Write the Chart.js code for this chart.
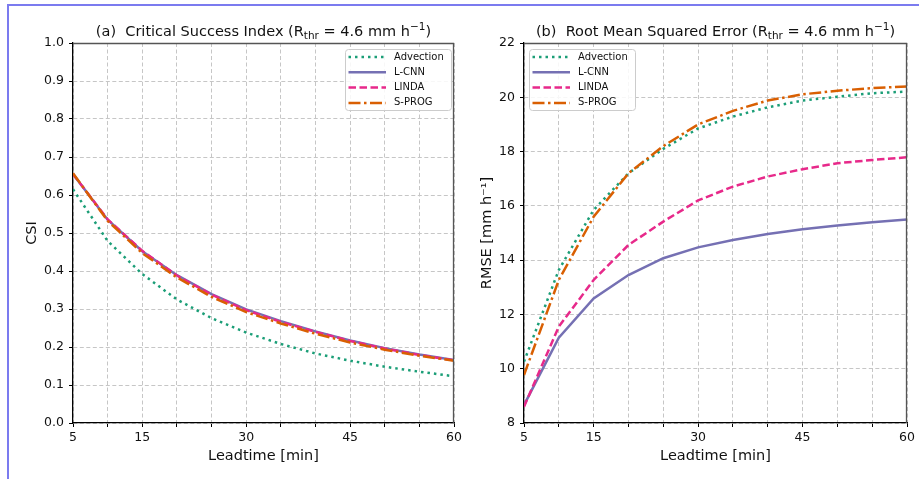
<!DOCTYPE html>
<html>
<head>
<meta charset="utf-8">
<script src="https://cdn.jsdelivr.net/npm/chart.js@4/dist/chart.umd.min.js"></script>
<style>
  html, body { margin: 0; padding: 0; background: #fff; }
  body { width: 919px; height: 479px; position: relative; overflow: hidden; }
  #frame { position: absolute; left: 7px; top: 4px; width: 912px; height: 475px;
           border-top: 2px solid #7b7bef; border-left: 2px solid #7b7bef; box-sizing: border-box; }
  canvas { position: absolute; top: 0; }
  #csi { left: 10px; }
  #rmse { left: 475px; }
</style>
</head>
<body>
<div id="frame"></div>
<canvas id="csi" width="465" height="479"></canvas>
<canvas id="rmse" width="444" height="479"></canvas>
<script>
// leadtime [min]
const leadtimes = [5, 10, 15, 20, 25, 30, 35, 40, 45, 50, 55, 60];
const xTickLabels = [5, 15, 30, 45, 60];

// (a) CSI
const csiAdvection = [0.615, 0.479, 0.392, 0.325, 0.276, 0.238, 0.208, 0.183, 0.164, 0.148, 0.135, 0.123];
const csiLCNN = [0.655, 0.535, 0.452, 0.389, 0.339, 0.299, 0.268, 0.241, 0.217, 0.197, 0.180, 0.166];
const csiLINDA = [0.655, 0.536, 0.453, 0.388, 0.338, 0.297, 0.266, 0.240, 0.216, 0.196, 0.179, 0.165];
const csiSPROG = [0.657, 0.532, 0.447, 0.383, 0.332, 0.292, 0.262, 0.235, 0.212, 0.193, 0.177, 0.164];

// (b) RMSE
const rmseAdvection = [10.26, 13.64, 15.85, 17.2, 18.1, 18.85, 19.29, 19.63, 19.88, 20.02, 20.15, 20.21];
const rmseLCNN = [8.66, 11.14, 12.59, 13.45, 14.07, 14.47, 14.74, 14.96, 15.14, 15.28, 15.40, 15.50];
const rmseLINDA = [8.6, 11.55, 13.27, 14.56, 15.42, 16.2, 16.71, 17.08, 17.35, 17.57, 17.69, 17.79];
const rmseSPROG = [9.77, 13.27, 15.6, 17.2, 18.2, 19.0, 19.5, 19.88, 20.11, 20.24, 20.34, 20.40];

const seriesNames = ["Advection", "L-CNN", "LINDA", "S-PROG"];

const FONT = "'DejaVu Sans', sans-serif";
const styles = [
  { color: "#1b9e77", dash: [2.5, 4], order: 4 },
  { color: "#7570b3", dash: [], order: 3 },
  { color: "#e7298a", dash: [7.5, 3.5], order: 2 },
  { color: "#d95f02", dash: [12, 3.5, 2.5, 3.5], order: 1 }
];

function pts(arr) {
  return leadtimes.map((t, i) => ({ x: t, y: arr[i] }));
}

function buildDatasets(list) {
  return list.map((arr, i) => ({
    label: seriesNames[i],
    data: pts(arr),
    borderColor: styles[i].color,
    backgroundColor: styles[i].color,
    borderDash: styles[i].dash,
    borderWidth: 2.5,
    borderCapStyle: "butt",
    pointRadius: 0,
    tension: 0,
    order: styles[i].order
  }));
}

// title with sub/superscript, spines and in-plot legend
const decor = {
  id: "decor",
  afterDatasetsDraw(chart, args, o) {
    const { ctx, chartArea: a } = chart;
    ctx.save();
    // top / right spines
    ctx.strokeStyle = "#555";
    ctx.lineWidth = 1.3;
    ctx.setLineDash([]);
    ctx.beginPath();
    ctx.moveTo(a.left, a.top + 0.5);
    ctx.lineTo(a.right - 0.5, a.top + 0.5);
    ctx.lineTo(a.right - 0.5, a.bottom);
    ctx.stroke();

    // legend
    const w = 106, h = 61;
    const bx = o.legendSide === "right" ? a.right - 3 - w : a.left + 5;
    const by = a.top + 6;
    ctx.fillStyle = "rgba(255,255,255,0.85)";
    ctx.strokeStyle = "#cccccc";
    ctx.lineWidth = 1;
    ctx.beginPath();
    ctx.roundRect(bx + 0.5, by + 0.5, w, h, 3);
    ctx.fill();
    ctx.stroke();
    ctx.font = "10px " + FONT;
    ctx.textBaseline = "middle";
    chart.data.datasets.forEach((ds, i) => {
      const y = by + 8 + i * 15.3;
      ctx.strokeStyle = ds.borderColor;
      ctx.lineWidth = ds.borderWidth;
      ctx.lineCap = "butt";
      ctx.setLineDash(ds.borderDash);
      ctx.beginPath();
      ctx.moveTo(bx + 3.5, y);
      ctx.lineTo(bx + 41, y);
      ctx.stroke();
      ctx.setLineDash([]);
      ctx.fillStyle = "#111";
      ctx.fillText(ds.label, bx + 49, y);
    });

    // title
    const big = "14.5px " + FONT, small = "10.5px " + FONT;
    const parts = o.title;
    let total = 0;
    parts.forEach(p => {
      ctx.font = p.s ? small : big;
      p.w = ctx.measureText(p.t).width;
      total += p.w;
    });
    let x = (a.left + a.right) / 2 - total / 2;
    const base = 36;
    ctx.fillStyle = "#111";
    ctx.textBaseline = "alphabetic";
    parts.forEach(p => {
      ctx.font = p.s ? small : big;
      const dy = p.s === "sub" ? 3 : p.s === "sup" ? -6 : 0;
      ctx.fillText(p.t, x, base + dy);
      x += p.w;
    });
    ctx.restore();
  }
};

function makeChart(id, datasets, y, opts) {
  return new Chart(document.getElementById(id), {
    type: "line",
    data: { datasets },
    plugins: [decor],
    options: {
      responsive: false,
      animation: false,
      events: [],
      layout: { padding: { top: 43, bottom: 0, left: 0, right: opts.padRight } },
      plugins: {
        legend: { display: false },
        tooltip: { enabled: false },
        decor: { title: opts.title, legendSide: opts.legendSide }
      },
      scales: {
        x: {
          type: "linear",
          min: 5, max: 60,
          afterFit: s => { s.height = 56; },
          grid: { color: "#c6c6c6", lineWidth: 1, tickColor: "#000", tickLength: 4, tickBorderDash: [] },
          border: { color: "#000", width: 1.3, dash: [4, 2.5] },
          ticks: {
            stepSize: 5, autoSkip: false, maxRotation: 0, padding: 3,
            color: "#111", font: { family: FONT, size: 12.5 },
            callback: v => xTickLabels.includes(v) ? String(v) : ""
          },
          title: { display: true, text: "Leadtime [min]", color: "#111",
                   font: { family: FONT, size: 14.5 }, padding: { top: 0, bottom: 14.3 } }
        },
        y: {
          min: y.min, max: y.max,
          afterFit: s => { s.width = opts.yWidth; },
          grid: { color: "#c6c6c6", lineWidth: 1, tickColor: "#000", tickLength: 4, tickBorderDash: [] },
          border: { color: "#000", width: 1.3, dash: [4, 2.5] },
          ticks: {
            stepSize: y.step, padding: 5, color: "#111",
            font: { family: FONT, size: 12.5 },
            callback: y.fmt
          },
          title: { display: true, text: y.title, color: "#111",
                   font: { family: FONT, size: 14.5 }, padding: { top: opts.yTitlePad, bottom: 0 } }
        }
      }
    }
  });
}

makeChart("csi", buildDatasets([csiAdvection, csiLCNN, csiLINDA, csiSPROG]),
  { min: 0, max: 1, step: 0.1, title: "CSI", fmt: v => v.toFixed(1) },
  {
    padRight: 21, yWidth: 63, yTitlePad: 13.3, legendSide: "right",
    title: [{ t: "(a)  Critical Success Index (R" }, { t: "thr", s: "sub" },
            { t: " = 4.6 mm h" }, { t: "\u22121", s: "sup" }, { t: ")" }]
  });

makeChart("rmse", buildDatasets([rmseAdvection, rmseLCNN, rmseLINDA, rmseSPROG]),
  { min: 8, max: 22, step: 2, title: "RMSE [mm h\u207B\u00B9]", fmt: v => String(v) },
  {
    padRight: 12, yWidth: 49, yTitlePad: 3.3, legendSide: "left",
    title: [{ t: "(b)  Root Mean Squared Error (R" }, { t: "thr", s: "sub" },
            { t: " = 4.6 mm h" }, { t: "\u22121", s: "sup" }, { t: ")" }]
  });
</script>
</body>
</html>
